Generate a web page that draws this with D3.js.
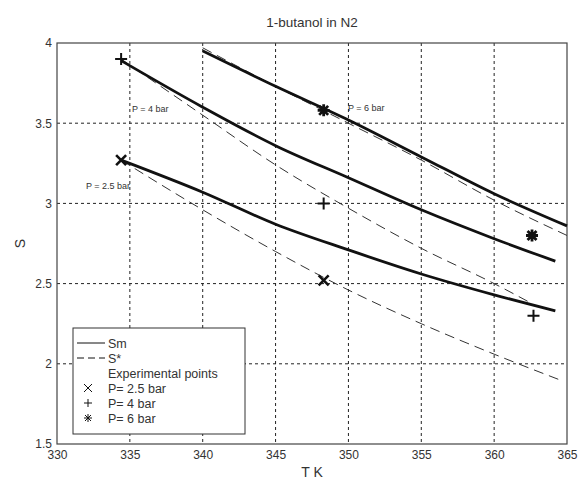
<!doctype html>
<html lang="en">
<head>
  <meta charset="utf-8">
  <title>1-butanol in N2</title>
  <script src="https://cdn.jsdelivr.net/npm/d3@7"></script>
  <style>
    body { margin: 0; background: #fff; }
    text { font-family: "Liberation Sans", Arial, sans-serif; fill: #333; }
  </style>
</head>
<body>
<div id="container"></div>
<script>
// temperatures (K) and S values
const xTicks = [330, 335, 340, 345, 350, 355, 360, 365];
const yTicks = [1.5, 2, 2.5, 3, 3.5, 4];

// Sm curves (solid)
const smT25 = [334.4, 340, 345, 350, 355, 360, 364.2];
const smS25 = [3.27, 3.07, 2.87, 2.71, 2.56, 2.43, 2.33];
const smT4 = [334.4, 340, 345, 350, 355, 360, 364.2];
const smS4 = [3.89, 3.60, 3.36, 3.16, 2.96, 2.78, 2.64];
const smT6 = [340, 345, 350, 355, 360, 365];
const smS6 = [3.95, 3.73, 3.52, 3.29, 3.06, 2.86];

// S* curves (dashed)
const stT25 = [334.4, 340, 345, 350, 355, 360, 364.5];
const stS25 = [3.27, 2.96, 2.70, 2.46, 2.25, 2.06, 1.90];
const stT4 = [334.4, 340, 345, 350, 355, 360, 362.5];
const stS4 = [3.90, 3.55, 3.24, 2.97, 2.72, 2.50, 2.38];
const stT6 = [340, 345, 350, 355, 360, 365];
const stS6 = [3.97, 3.73, 3.50, 3.27, 3.02, 2.80];

// experimental points
const expT25 = [334.4, 348.3];
const expS25 = [3.27, 2.52];
const expT4 = [334.4, 348.3, 362.7];
const expS4 = [3.90, 3.00, 2.30];
const expT6 = [348.3, 362.6];
const expS6 = [3.58, 2.80];

const legendLabels = ['Sm', 'S*', 'Experimental points', 'P= 2.5 bar', 'P= 4 bar', 'P= 6 bar'];

const W = 581, H = 484;
const margin = { top: 43, right: 14, bottom: 40, left: 57 };
const width = W - margin.left - margin.right,
  height = H - margin.top - margin.bottom;

const svg = d3.select('#container').append('svg')
  .attr('width', W).attr('height', H);
const g = svg.append('g').attr('transform', `translate(${margin.left},${margin.top})`);

const x = d3.scaleLinear().domain([330, 365]).range([0, width]);
const y = d3.scaleLinear().domain([1.5, 4]).range([height, 0]);

// grid
g.append('g').selectAll('line').data(xTicks.slice(1, -1)).enter().append('line')
  .attr('x1', d => x(d)).attr('x2', d => x(d)).attr('y1', 0).attr('y2', height)
  .attr('stroke', '#222').attr('stroke-width', 1).attr('stroke-dasharray', '3,3');
g.append('g').selectAll('line').data(yTicks.slice(1, -1)).enter().append('line')
  .attr('y1', d => y(d)).attr('y2', d => y(d)).attr('x1', 0).attr('x2', width)
  .attr('stroke', '#222').attr('stroke-width', 1).attr('stroke-dasharray', '3,3');

// axes
const xAxis = g.append('g').attr('transform', `translate(0,${height})`)
  .call(d3.axisBottom(x).tickValues(xTicks).tickSize(0).tickPadding(6));
const yAxis = g.append('g')
  .call(d3.axisLeft(y).tickValues(yTicks).tickFormat(d3.format('')).tickSize(0).tickPadding(5));
[xAxis, yAxis].forEach(a => {
  a.select('.domain').remove();
  a.selectAll('text').style('font-size', '12px').attr('fill', '#333')
    .style('font-family', '"Liberation Sans", Arial, sans-serif');
});

// frame
g.append('rect').attr('width', width).attr('height', height)
  .attr('fill', 'none').attr('stroke', '#444').attr('stroke-width', 1.2);

const line = d3.line().x(d => x(d[0])).y(d => y(d[1])).curve(d3.curveMonotoneX);
const zip = (a, b) => a.map((v, i) => [v, b[i]]);

[[stT25, stS25], [stT4, stS4], [stT6, stS6]].forEach(([t, s]) => {
  g.append('path').datum(zip(t, s)).attr('d', line)
    .attr('fill', 'none').attr('stroke', '#333').attr('stroke-width', 1)
    .attr('stroke-dasharray', '10,6');
});
[[smT25, smS25], [smT4, smS4], [smT6, smS6]].forEach(([t, s]) => {
  g.append('path').datum(zip(t, s)).attr('d', line)
    .attr('fill', 'none').attr('stroke', '#111').attr('stroke-width', 2.8);
});

// markers
function drawMarker(sel, type, r, sw) {
  const p = d3.path();
  if (type === 'x') {
    p.moveTo(-r, -r); p.lineTo(r, r); p.moveTo(-r, r); p.lineTo(r, -r);
  } else if (type === '+') {
    p.moveTo(-r, 0); p.lineTo(r, 0); p.moveTo(0, -r); p.lineTo(0, r);
  } else {
    p.moveTo(-r, 0); p.lineTo(r, 0); p.moveTo(0, -r); p.lineTo(0, r);
    const k = r * 0.75;
    p.moveTo(-k, -k); p.lineTo(k, k); p.moveTo(-k, k); p.lineTo(k, -k);
  }
  sel.append('path').attr('d', p.toString())
    .attr('fill', 'none').attr('stroke', '#111').attr('stroke-width', sw);
}
[[expT25, expS25, 'x', 5, 2.6], [expT4, expS4, '+', 6, 2], [expT6, expS6, '*', 6, 2.8]]
  .forEach(([t, s, type, r, sw]) => {
    zip(t, s).forEach(d => {
      const m = g.append('g').attr('transform', `translate(${x(d[0])},${y(d[1])})`);
      drawMarker(m, type, r, sw);
    });
  });

// curve annotations
const ann = [['P = 4 bar', 75, 69, 'start'], ['P = 6 bar', 291, 68, 'start'], ['P = 2.5 bar', 73, 146, 'end']];
ann.forEach(([t, ax, ay, anchor]) => {
  g.append('text').attr('x', ax).attr('y', ay).attr('text-anchor', anchor)
    .style('font-size', '9px').text(t);
});

// legend
const lg = svg.append('g').attr('transform', 'translate(73,328)');
lg.append('rect').attr('width', 172).attr('height', 106)
  .attr('fill', '#fff').attr('stroke', '#333').attr('stroke-width', 1);
legendLabels.forEach((t, i) => {
  const cy = 15 + i * 15;
  lg.append('text').attr('x', 35).attr('y', cy + 4.5).style('font-size', '12.5px').text(t);
  if (i === 0) {
    lg.append('line').attr('x1', 4).attr('x2', 32).attr('y1', cy).attr('y2', cy)
      .attr('stroke', '#111').attr('stroke-width', 1);
  } else if (i === 1) {
    lg.append('line').attr('x1', 4).attr('x2', 32).attr('y1', cy).attr('y2', cy)
      .attr('stroke', '#111').attr('stroke-width', 1).attr('stroke-dasharray', '7,4');
  } else if (i > 2) {
    const m = lg.append('g').attr('transform', `translate(15,${cy})`);
    drawMarker(m, ['x', '+', '*'][i - 3], 4, 1);
  }
});

// title and axis labels
svg.append('text').attr('x', margin.left + width / 2).attr('y', 27)
  .attr('text-anchor', 'middle').style('font-size', '13.5px').text('1-butanol in N2');
svg.append('text').attr('x', margin.left + width / 2).attr('y', 477)
  .attr('text-anchor', 'middle').style('font-size', '14px').text('T K');
svg.append('text').attr('transform', `translate(25,${margin.top + height / 2}) rotate(-90)`)
  .attr('text-anchor', 'middle').style('font-size', '14px').text('S');
</script>
</body>
</html>
